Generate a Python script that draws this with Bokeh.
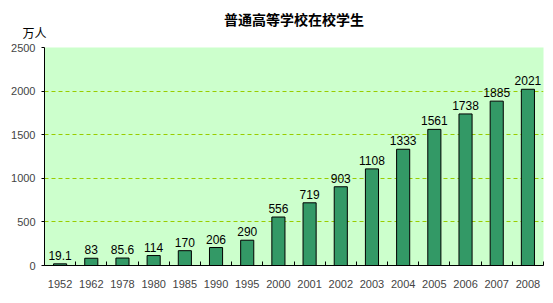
from bokeh.plotting import figure
from bokeh.models import ColumnDataSource, Range1d, FixedTicker, LabelSet, Title
from bokeh.core.properties import value
from bokeh.embed import file_html
from bokeh.resources import INLINE

years = ["1952", "1962", "1978", "1980", "1985", "1990", "1995", "2000",
         "2001", "2002", "2003", "2004", "2005", "2006", "2007", "2008"]
students = [19.1, 83, 85.6, 114, 170, 206, 290, 556,
            719, 903, 1108, 1333, 1561, 1738, 1885, 2021]
value_labels = ["19.1", "83", "85.6", "114", "170", "206", "290", "556",
                "719", "903", "1108", "1333", "1561", "1738", "1885", "2021"]
y_ticks = [0, 500, 1000, 1500, 2000, 2500]
title_text = "普通高等学校在校学生"
unit_text = "万人"

idx = list(range(len(years)))
src = ColumnDataSource(dict(x=idx, top=students, lab=value_labels))

p = figure(width=553, height=303, output_backend="svg", toolbar_location=None,
           x_range=Range1d(-0.5, len(years) - 0.5), y_range=Range1d(0, 2500),
           min_border_left=44, min_border_right=10, min_border_top=47, min_border_bottom=38)
p.background_fill_color = "#CCFFCC"
p.border_fill_color = "white"
p.outline_line_color = None

p.title.text = title_text
p.title.align = "center"
p.title.text_font = "Noto Sans CJK SC"
p.title.text_font_size = "14px"
p.title.text_font_style = "bold"
p.title.text_color = "black"
p.title.standoff = -28

unit = Title(text=unit_text, align="left", offset=-22, text_font="Noto Sans CJK SC",
             text_font_size="12px", text_font_style="normal", text_color="black", standoff=14)
p.add_layout(unit, "above")

p.vbar(x="x", top="top", width=0.42, source=src, fill_color="#339966",
       line_color="black", line_width=1)

p.add_layout(LabelSet(x="x", y="top", text="lab", source=src, y_offset=4,
                      text_align="center", text_baseline="bottom",
                      text_font=value("Liberation Sans"), text_font_size=value("12px"),
                      text_color="black"))

# x axis
xa = p.xaxis[0]
xa.ticker = FixedTicker(ticks=idx, minor_ticks=[i - 0.5 for i in range(len(years) + 1)])
xa.major_label_overrides = {i: y for i, y in enumerate(years)}
xa.major_tick_line_color = None
xa.minor_tick_in = 4
xa.minor_tick_out = 0
xa.minor_tick_line_color = "black"
xa.axis_line_color = "black"
xa.major_label_text_font = "Liberation Sans"
xa.major_label_text_font_size = "11px"
xa.major_label_standoff = 8

# y axis
ya = p.yaxis[0]
ya.ticker = FixedTicker(ticks=y_ticks)
ya.major_tick_in = 0
ya.major_tick_out = 3
ya.minor_tick_line_color = None
ya.axis_line_color = "black"
ya.major_label_text_font = "Liberation Sans"
ya.major_label_text_font_size = "11px"
ya.major_label_standoff = 6

p.xgrid.grid_line_color = None
p.ygrid.ticker = FixedTicker(ticks=y_ticks[1:])
p.ygrid.grid_line_color = "#99CC00"
p.ygrid.grid_line_dash = "4 3"
p.ygrid.grid_line_width = 1

open("out.html", "w").write(file_html(p, INLINE))
